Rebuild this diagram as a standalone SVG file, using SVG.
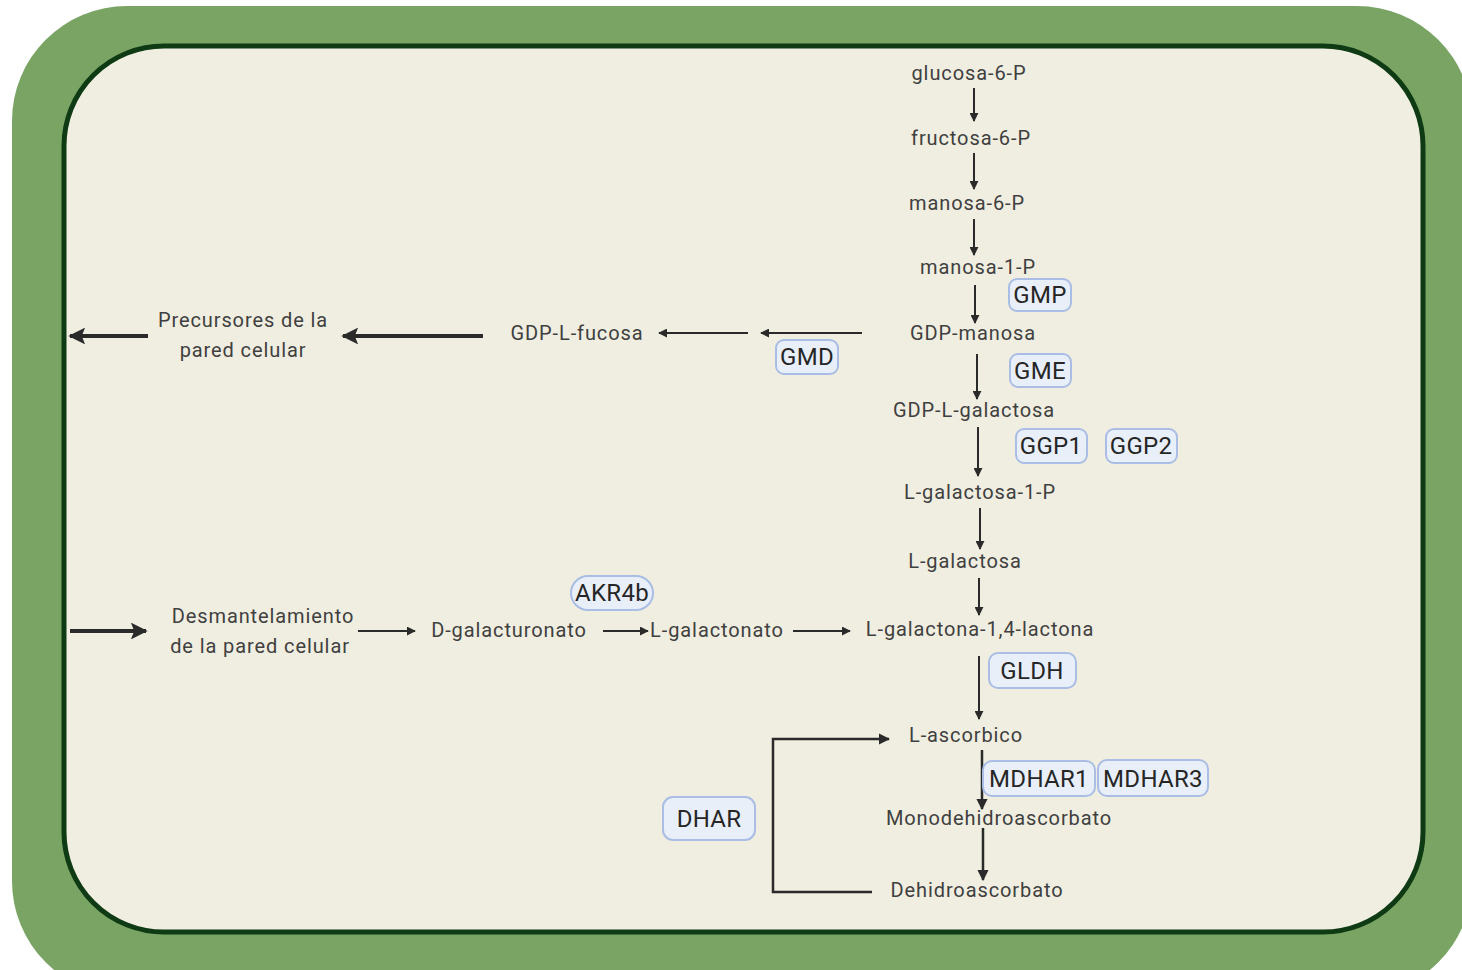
<svg xmlns="http://www.w3.org/2000/svg" width="1462" height="970" viewBox="0 0 1462 970">
<defs>
<marker id="ah" viewBox="0 0 10 10" refX="9" refY="5" markerWidth="4.5" markerHeight="4.5" orient="auto" markerUnits="strokeWidth">
<path d="M0,0 L10,5 L0,10 z" fill="#2a2a2a"/>
</marker>
<marker id="ahb" viewBox="0 0 10 10" refX="9" refY="5" markerWidth="4.5" markerHeight="4.2" orient="auto" markerUnits="strokeWidth">
<path d="M0,0 L10,5 L0,10 L2,5 z" fill="#2a2a2a"/>
</marker>
</defs>
<style>
.t{font-family:Roboto,"Liberation Sans",sans-serif;font-size:20px;letter-spacing:0.9px;fill:#404040;text-anchor:middle}
.e{font-family:Roboto,"Liberation Sans",sans-serif;font-size:24px;letter-spacing:0.3px;fill:#262626;text-anchor:middle}
.box{fill:#e9eff9;stroke:#a9bde5;stroke-width:2}
.c{stroke:#2a2a2a;stroke-width:2;fill:none;marker-end:url(#ah)}
.cb{stroke:#2a2a2a;stroke-width:4;fill:none;marker-end:url(#ahb)}
.cm{stroke:#2a2a2a;stroke-width:2.5;fill:none;marker-end:url(#ah)}
</style>
<g id="cell">
<rect x="12" y="6" width="1460" height="990" rx="115" fill="#79a464"/>
<rect x="64" y="46" width="1359" height="886" rx="100" fill="#f0eee0" stroke="#0e3a14" stroke-width="5"/>
</g>
<g id="connectors">
<line class="c" x1="974" y1="88" x2="974" y2="121"/>
<line class="c" x1="974" y1="153" x2="974" y2="189"/>
<line class="c" x1="974" y1="219" x2="974" y2="255"/>
<line class="c" x1="975" y1="285" x2="975" y2="323"/>
<line class="c" x1="977" y1="354" x2="977" y2="399"/>
<line class="c" x1="978" y1="427" x2="978" y2="476"/>
<line class="c" x1="980" y1="508" x2="980" y2="549"/>
<line class="c" x1="979" y1="578" x2="979" y2="615"/>
<line class="c" x1="979" y1="656" x2="979" y2="719"/>
<line class="cm" x1="982" y1="750" x2="982" y2="809"/>
<line class="cm" x1="983" y1="828" x2="983" y2="880"/>
<line class="c" x1="862" y1="333" x2="761" y2="333"/>
<line class="c" x1="748" y1="333" x2="659" y2="333"/>
<line class="cb" x1="483" y1="336" x2="343" y2="336"/>
<line class="cb" x1="148" y1="336" x2="70" y2="336"/>
<line class="cb" x1="70" y1="631" x2="146" y2="631"/>
<line class="c" x1="358" y1="631" x2="415" y2="631"/>
<line class="c" x1="603" y1="631" x2="648" y2="631"/>
<line class="c" x1="793" y1="631" x2="850" y2="631"/>
<path class="cm" d="M872,892 L773,892 L773,739 L889,739"/>
</g>
<g id="metabolites">
<text class="t" x="969" y="80">glucosa-6-P</text>
<text class="t" x="971" y="145">fructosa-6-P</text>
<text class="t" x="967" y="210">manosa-6-P</text>
<text class="t" x="978" y="274">manosa-1-P</text>
<text class="t" x="973" y="340">GDP-manosa</text>
<text class="t" x="974" y="417">GDP-L-galactosa</text>
<text class="t" x="980" y="499">L-galactosa-1-P</text>
<text class="t" x="965" y="568">L-galactosa</text>
<text class="t" x="980" y="636">L-galactona-1,4-lactona</text>
<text class="t" x="966" y="742">L-ascorbico</text>
<text class="t" x="999" y="825">Monodehidroascorbato</text>
<text class="t" x="977" y="897">Dehidroascorbato</text>
<text class="t" x="577" y="340">GDP-L-fucosa</text>
<text class="t" x="243" y="327">Precursores de la</text>
<text class="t" x="243" y="357">pared celular</text>
<text class="t" x="263" y="623">Desmantelamiento</text>
<text class="t" x="260" y="653">de la pared celular</text>
<text class="t" x="509" y="637">D-galacturonato</text>
<text class="t" x="717" y="637">L-galactonato</text>
</g>
<g id="enzyme-GMP"><rect class="box" x="1009" y="279" width="62" height="32" rx="8"/><text class="e" x="1040" y="303">GMP</text></g>
<g id="enzyme-GMD"><rect class="box" x="776" y="340" width="62" height="34" rx="8"/><text class="e" x="807" y="365">GMD</text></g>
<g id="enzyme-GME"><rect class="box" x="1010" y="354" width="61" height="33" rx="8"/><text class="e" x="1040" y="379">GME</text></g>
<g id="enzyme-GGP1"><rect class="box" x="1016" y="429" width="71" height="34" rx="8"/><text class="e" x="1051" y="454">GGP1</text></g>
<g id="enzyme-GGP2"><rect class="box" x="1106" y="429" width="71" height="34" rx="8"/><text class="e" x="1141" y="454">GGP2</text></g>
<g id="enzyme-AKR4b"><rect class="box" x="571" y="576" width="82" height="34" rx="17"/><text class="e" x="612" y="601">AKR4b</text></g>
<g id="enzyme-GLDH"><rect class="box" x="989" y="653" width="87" height="35" rx="9"/><text class="e" x="1032" y="679">GLDH</text></g>
<g id="enzyme-MDHAR1"><rect class="box" x="983" y="761" width="112" height="35" rx="9"/><text class="e" x="1039" y="787">MDHAR1</text></g>
<g id="enzyme-MDHAR3"><rect class="box" x="1098" y="760" width="110" height="36" rx="9"/><text class="e" x="1153" y="787">MDHAR3</text></g>
<g id="enzyme-DHAR"><rect class="box" x="663" y="797" width="92" height="43" rx="10"/><text class="e" x="709" y="827">DHAR</text></g>
</svg>
